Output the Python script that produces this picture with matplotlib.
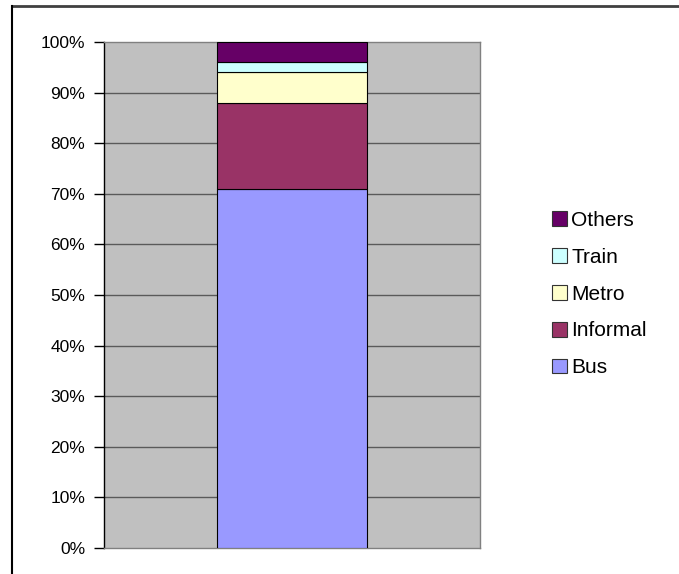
import matplotlib
matplotlib.use("Agg")
import matplotlib.pyplot as plt
from matplotlib.patches import Patch
from matplotlib.lines import Line2D
import numpy as np

categories = [""]
series_names = ["Bus", "Informal", "Metro", "Train", "Others"]
series_values = [71, 17, 6, 2, 4]
series_colors = ["#9999FF", "#993366", "#FFFFCC", "#CCFFFF", "#660066"]
y_ticks = [0, 10, 20, 30, 40, 50, 60, 70, 80, 90, 100]
y_tick_labels = [f"{v}%" for v in y_ticks]

plt.rcParams['font.family'] = ['Liberation Sans', 'DejaVu Sans']

W, H = 679, 574
fig = plt.figure(figsize=(W / 100, H / 100), dpi=100)

# chart frame (cut off at right/bottom)
fig.add_artist(Line2D([11.5 / W, 1.0], [1 - 5.5 / H, 1 - 5.5 / H], transform=fig.transFigure,
                      color="#404040", lw=2.0))
fig.add_artist(Line2D([11.5 / W, 11.5 / W], [0, 1 - 5.5 / H], transform=fig.transFigure,
                      color="black", lw=1.5))

ax = fig.add_axes([104 / W, (H - 548) / H, (480 - 104) / W, (548 - 42) / H])
ax.set_facecolor("#C0C0C0")
ax.set_xlim(-0.5, 0.5)
ax.set_ylim(0, 100)

for y in y_ticks[1:-1]:
    ax.axhline(y, color="#5a5a5a", lw=1.0, zorder=1)

x = np.arange(len(categories))
bottom = np.zeros(len(categories))
handles = []
for name, val, col in zip(series_names, series_values, series_colors):
    ax.bar(x, [val], width=0.4, bottom=bottom, color=col, edgecolor="black",
           linewidth=0.8, zorder=3)
    bottom += val
    handles.append(Patch(facecolor=col, edgecolor="#333333", linewidth=0.8, label=name))

ax.set_yticks(y_ticks)
ax.set_yticklabels(y_tick_labels, fontsize=12.5)
ax.tick_params(axis='y', length=7, width=1, color="black", pad=6.5)
ax.set_xticks([])
ax.spines["top"].set_color("#808080")
ax.spines["right"].set_color("#808080")
ax.spines["bottom"].set_color("#808080")
ax.spines["left"].set_color("black")
for s in ax.spines.values():
    s.set_linewidth(1.0)

leg = fig.legend(handles=handles[::-1], loc="center left",
                 bbox_to_anchor=(552 / W, 1 - 294 / H), frameon=False,
                 fontsize=15, handlelength=0.72, handleheight=0.72,
                 handletextpad=0.2, labelspacing=0.86, borderpad=0, borderaxespad=0)

fig.savefig("out.png", dpi=100)
